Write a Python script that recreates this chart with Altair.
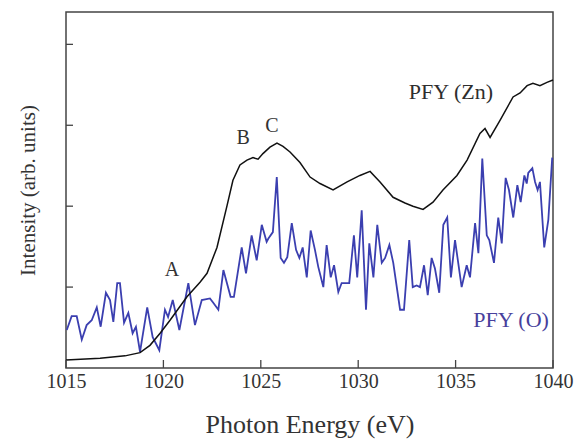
import altair as alt
import pandas as pd

# PFY (Zn) partial fluorescence yield, smooth trace
zn_energy = [1015.0, 1016.75, 1018.03, 1018.8, 1019.31, 1019.83, 1020.34, 1021.21,
             1021.88, 1022.24, 1022.75, 1023.27, 1023.57, 1023.93, 1024.29, 1024.6,
             1024.86, 1025.11, 1025.47, 1025.83, 1026.14, 1026.5, 1027.01, 1027.53,
             1028.04, 1028.71, 1029.43, 1030.09, 1030.61, 1031.12, 1031.79, 1032.4,
             1032.81, 1033.33, 1033.84, 1034.35, 1035.07, 1035.59, 1036.25, 1036.51,
             1036.77, 1037.28, 1037.95, 1038.31, 1038.67, 1038.97, 1039.33, 1039.69,
             1040.0]
zn_intensity = [0.10, 0.12, 0.15, 0.19, 0.28, 0.43, 0.59, 0.88,
                1.06, 1.17, 1.49, 2.01, 2.32, 2.51, 2.57, 2.60,
                2.58, 2.65, 2.73, 2.78, 2.74, 2.67, 2.54, 2.36,
                2.28, 2.20, 2.30, 2.38, 2.43, 2.30, 2.11, 2.04,
                2.00, 1.96, 2.05, 2.20, 2.38, 2.57, 2.90, 2.96,
                2.85, 3.06, 3.35, 3.40, 3.49, 3.52, 3.49, 3.53,
                3.56]

# PFY (O) partial fluorescence yield, noisy trace
o_energy = [1015.04, 1015.29, 1015.55, 1015.81, 1016.06, 1016.32, 1016.58, 1016.78,
            1017.05, 1017.26, 1017.43, 1017.63, 1017.77, 1017.98, 1018.20, 1018.42,
            1018.59, 1018.80, 1019.17, 1019.45, 1019.79, 1020.08, 1020.24, 1020.48,
            1020.82, 1021.28, 1021.62, 1021.97, 1022.39, 1022.55, 1022.82, 1023.08,
            1023.45, 1023.62, 1024.02, 1024.24, 1024.53, 1024.79, 1025.05, 1025.30,
            1025.39, 1025.62, 1025.82, 1026.02, 1026.19, 1026.36, 1026.59, 1026.81,
            1026.98, 1027.15, 1027.36, 1027.56, 1027.78, 1027.95, 1028.21, 1028.38,
            1028.59, 1028.76, 1028.98, 1029.15, 1029.54, 1029.78, 1029.95, 1030.18,
            1030.40, 1030.57, 1030.78, 1030.98, 1031.21, 1031.38, 1031.60, 1031.80,
            1032.15, 1032.35, 1032.62, 1032.80, 1033.00, 1033.17, 1033.38, 1033.57,
            1033.77, 1033.94, 1034.16, 1034.37, 1034.57, 1034.76, 1034.97, 1035.31,
            1035.57, 1035.74, 1036.00, 1036.17, 1036.37, 1036.60, 1036.73, 1036.97,
            1037.19, 1037.37, 1037.57, 1037.74, 1037.96, 1038.17, 1038.34, 1038.53,
            1038.65, 1038.73, 1038.94, 1039.08, 1039.21, 1039.33, 1039.55, 1039.76,
            1039.96]
o_intensity = [0.47, 0.64, 0.64, 0.35, 0.53, 0.59, 0.75, 0.51,
               0.93, 0.84, 0.57, 1.05, 1.05, 0.56, 0.68, 0.43,
               0.51, 0.20, 0.75, 0.38, 0.22, 0.72, 0.63, 0.84,
               0.47, 1.05, 0.53, 0.84, 0.86, 0.81, 0.72, 1.21,
               0.88, 0.88, 1.49, 1.17, 1.64, 1.33, 1.77, 1.56,
               1.60, 1.68, 2.36, 1.36, 1.30, 1.37, 1.79, 1.46,
               1.36, 1.49, 1.12, 1.70, 1.46, 1.25, 1.00, 1.52,
               1.12, 1.27, 0.94, 1.05, 1.05, 1.64, 1.12, 1.95,
               0.72, 1.54, 1.12, 1.77, 1.30, 1.36, 1.52, 1.30,
               0.72, 0.72, 1.58, 1.00, 1.02, 1.00, 1.27, 0.90,
               1.36, 1.23, 0.93, 1.77, 1.86, 1.12, 1.58, 1.00,
               1.27, 1.12, 1.79, 1.42, 2.59, 1.64, 1.58, 1.30,
               1.86, 1.54, 2.35, 2.20, 1.86, 2.26, 2.05, 2.38,
               2.28, 2.41, 2.47, 2.30, 2.20, 2.30, 1.49, 1.83,
               2.60]

# Feature letters and series labels
note_text = ["A", "B", "C"]
note_energy = [1020.44, 1024.09, 1025.57]
note_intensity = [1.21, 2.84, 2.99]

series_text = ["PFY (Zn)", "PFY (O)"]
series_energy = [1034.76, 1037.85]
series_intensity = [3.41, 0.59]
series_color = ["#2e2e2e", "#473f9c"]

x_ticks = [1015, 1020, 1025, 1030, 1035, 1040]
y_ticks = [1, 2, 3, 4]

FONT = "Liberation Serif"
TEXT = "#333333"

zn = pd.DataFrame({"E": zn_energy, "I": zn_intensity})
ox = pd.DataFrame({"E": o_energy, "I": o_intensity})
notes = pd.DataFrame({"E": note_energy, "I": note_intensity, "t": note_text})
series = pd.DataFrame({"E": series_energy, "I": series_intensity,
                       "t": series_text, "c": series_color})
xt = pd.DataFrame({"E": x_ticks})
yt = pd.DataFrame({"I": y_ticks})

x_scale = alt.Scale(domain=[1015, 1040], nice=False, zero=False)
y_scale = alt.Scale(domain=[0, 4.4], nice=False, zero=False)

x_enc = alt.X("E:Q", scale=x_scale,
              axis=alt.Axis(title="Photon Energy (eV)", values=x_ticks, format="d",
                            ticks=False, domain=False, grid=False,
                            labelFlush=False, labelOverlap=False,
                            labelFont=FONT, labelFontSize=20, labelColor=TEXT,
                            labelPadding=3,
                            titleFont=FONT, titleFontSize=26, titleColor=TEXT,
                            titleFontWeight="normal", titlePadding=20))
y_enc = alt.Y("I:Q", scale=y_scale,
              axis=alt.Axis(title="Intensity (arb. units)", labels=False,
                            ticks=False, domain=False, grid=False,
                            titleFont=FONT, titleFontSize=21, titleColor=TEXT,
                            titleFontWeight="normal", titlePadding=28))

o_line = alt.Chart(ox).mark_line(color="#3b3fb0", strokeWidth=1.8).encode(
    x=x_enc, y=y_enc)
zn_line = alt.Chart(zn).mark_line(color="#111111", strokeWidth=1.5).encode(
    x="E:Q", y="I:Q")

note_marks = alt.Chart(notes).mark_text(
    font=FONT, fontSize=20, color=TEXT, baseline="middle", align="center"
).encode(x="E:Q", y="I:Q", text="t:N")

series_marks = alt.Chart(series).mark_text(
    font=FONT, fontSize=22, baseline="middle", align="center"
).encode(x="E:Q", y="I:Q", text="t:N", color=alt.Color("c:N", scale=None))

# inward-pointing ticks along the bottom and left frame edges
x_tick_marks = alt.Chart(xt).mark_rule(color="#444444", strokeWidth=1.3).encode(
    x="E:Q", y=alt.value(356), y2=alt.value(348))
y_tick_marks = alt.Chart(yt).mark_rule(color="#444444", strokeWidth=1.3).encode(
    y="I:Q", x=alt.value(0), x2=alt.value(7))

chart = alt.layer(
    o_line, zn_line, note_marks, series_marks, x_tick_marks, y_tick_marks
).properties(
    width=487, height=356,
    autosize=alt.AutoSizeParams(type="none"),
    padding={"left": 66, "top": 12, "right": 30, "bottom": 75},
    background="white",
).configure_view(
    stroke="#444444", strokeWidth=1.5
)

chart.save("out.html", embed_options={"renderer": "svg", "actions": False})
